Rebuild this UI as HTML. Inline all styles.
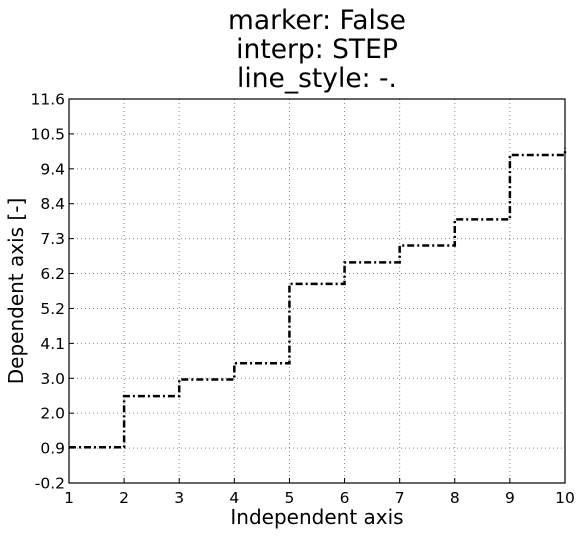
<!DOCTYPE html>
<html><head><meta charset="utf-8"><style>
body{margin:0;background:#fff;}
svg text{font-family:"DejaVu Sans","Liberation Sans",sans-serif;fill:#000;}
</style></head><body>
<svg id="chart" width="581" height="535" xmlns="http://www.w3.org/2000/svg">
<rect width="581" height="535" fill="#fff"/>
<text x="317" y="29" font-size="26.5" text-anchor="middle">marker: False</text>
<text x="317" y="58" font-size="26.5" text-anchor="middle">interp: STEP</text>
<text x="317" y="87" font-size="26.5" text-anchor="middle">line_style: -.</text>
<g id="grid"></g>
<g id="series"></g>
<rect x="69" y="99" width="496" height="384" fill="none" stroke="#000" stroke-width="1.2"/>
<g id="ticks"></g>
<text x="317" y="524" font-size="20" text-anchor="middle">Independent axis</text>
<text transform="translate(23,291) rotate(-90)" font-size="20" text-anchor="middle">Dependent axis [-]</text>
</svg>
<script>
const xValues=[1,2,3,4,5,6,7,8,9,10];
const yValues=[0.9,2.47,2.98,3.48,5.92,6.58,7.1,7.9,9.88,10.1];
const xTicks=[1,2,3,4,5,6,7,8,9,10];
const yTickLabels=["-0.2","0.9","2.0","3.0","4.1","5.2","6.2","7.3","8.4","9.4","10.5","11.6"];
const yMin=-0.2,yMax=11.6,xMin=1,xMax=10;
const L=69,R=565,T=99,B=483;
const sx=v=>L+(v-xMin)/(xMax-xMin)*(R-L);
const sy=v=>B-(v-yMin)/(yMax-yMin)*(B-T);
const NS="http://www.w3.org/2000/svg";
const grid=document.getElementById('grid'),ticks=document.getElementById('ticks'),series=document.getElementById('series');
function mk(tag,attrs,parent){const e=document.createElementNS(NS,tag);for(const k in attrs)e.setAttribute(k,attrs[k]);parent.appendChild(e);return e;}
xTicks.forEach(v=>{
  const x=sx(v);
  if(v>xMin&&v<xMax){const g=mk('line',{x1:x,x2:x,y1:T,y2:B,stroke:'#888','stroke-dasharray':'1,3','stroke-width':1},grid);
  
  }
  const tk=mk('line',{x1:x,x2:x,y1:B,y2:B-5,stroke:'#000'},ticks);
  
  
  const t=mk('text',{x:x,y:B+20,'font-size':15.5,'text-anchor':'middle'},ticks);t.textContent=v;
  
  
});
yTickLabels.forEach((lab,i)=>{
  const v=yMin+i*(yMax-yMin)/(yTickLabels.length-1);const y=sy(v);
  if(i>0&&i<yTickLabels.length-1){const g=mk('line',{x1:L,x2:R,y1:y,y2:y,stroke:'#888','stroke-dasharray':'1,3','stroke-width':1},grid);
  
  }
  const tk=mk('line',{x1:L,x2:L+5,y1:y,y2:y,stroke:'#000'},ticks);
  
  
  const t=mk('text',{x:L-4,y:y+5.5,'font-size':15.5,'text-anchor':'end'},ticks);t.textContent=lab;
  
  
});
let d='M'+sx(xValues[0])+','+sy(yValues[0]);
for(let i=1;i<xValues.length;i++){d+=' L'+sx(xValues[i])+','+sy(yValues[i-1])+' L'+sx(xValues[i])+','+sy(yValues[i]);}
const p=mk('path',{d:d,fill:'none',stroke:'#000','stroke-width':2.5,'stroke-dasharray':'7,3,2,3'},series);


</script>
</body></html>
